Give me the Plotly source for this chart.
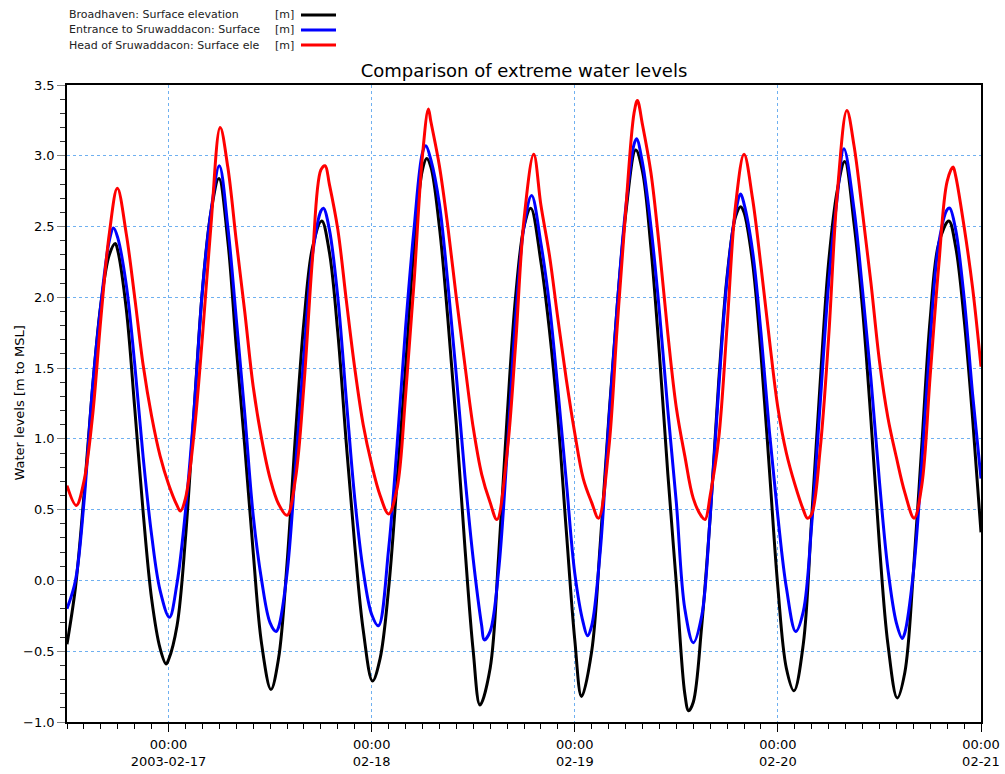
import pandas as pd
import plotly.graph_objects as go

# Water levels [m to MSL]: hourly readings from 2003-02-16 12:00,
# plus the times (hours after start) and levels of each high and low water.
start_time = "2003-02-16 12:00"

broadhaven = [
    -0.45, -0.05, 0.60, 1.35, 1.95, 2.30, 2.33, 1.92, 1.22, 0.48,
    -0.13, -0.48, -0.56, -0.32, 0.30, 1.19, 2.05, 2.60, 2.83, 2.40,
    1.65, 0.95, 0.20, -0.45, -0.76, -0.55, 0.12, 1.03, 1.83, 2.35,
    2.54, 2.32, 1.75, 0.97, 0.25, -0.35, -0.70, -0.55, -0.06, 0.70,
    1.50, 2.35, 2.90, 2.92, 2.50, 1.85, 1.10, 0.25, -0.50, -0.86,
    -0.62, 0.17, 1.15, 2.00, 2.50, 2.57, 2.25, 1.77, 1.15, 0.35,
    -0.42, -0.82, -0.50, 0.25, 1.13, 1.93, 2.58, 3.02, 2.89, 2.35,
    1.60, 0.75, -0.02, -0.80, -0.86, -0.32, 0.45, 1.40, 2.15, 2.57,
    2.60, 2.25, 1.60, 0.78, -0.05, -0.62, -0.76, -0.45, 0.45, 1.40,
    2.25, 2.75, 2.92, 2.52, 1.92, 1.13, 0.25, -0.45, -0.82, -0.65,
    0.05, 0.95, 1.85, 2.38, 2.53, 2.36, 1.85, 1.15, 0.34,
]
broadhaven_turn_hours = [5.7, 11.7, 17.95, 24.1, 30.1, 36.1, 42.5, 48.8, 54.8,
                         60.8, 67.2, 73.45, 79.6, 85.9, 91.9, 98.1, 104.2]
broadhaven_turn_levels = [2.38, -0.59, 2.84, -0.77, 2.54, -0.71, 2.98, -0.88, 2.63,
                          -0.82, 3.04, -0.92, 2.64, -0.78, 2.96, -0.83, 2.54]

entrance = [
    -0.20, 0.00, 0.55, 1.35, 1.95, 2.40, 2.42, 2.09, 1.53, 0.87,
    0.32, -0.07, -0.25, -0.02, 0.49, 1.19, 2.05, 2.60, 2.93, 2.50,
    1.85, 1.18, 0.46, 0.00, -0.30, -0.33, 0.05, 0.80, 1.60, 2.30,
    2.61, 2.48, 2.00, 1.28, 0.58, 0.07, -0.24, -0.31, 0.22, 0.95,
    1.78, 2.48, 3.02, 2.97, 2.66, 2.10, 1.45, 0.75, 0.15, -0.32,
    -0.36, 0.07, 0.90, 1.85, 2.50, 2.70, 2.38, 1.95, 1.35, 0.70,
    0.05, -0.30, -0.32, 0.20, 1.10, 1.93, 2.62, 3.08, 2.95, 2.50,
    1.90, 1.20, 0.55, -0.20, -0.42, -0.25, 0.45, 1.35, 2.13, 2.60,
    2.66, 2.33, 1.75, 1.05, 0.45, -0.05, -0.35, -0.22, 0.40, 1.25,
    2.10, 2.70, 3.02, 2.62, 2.05, 1.42, 0.70, 0.08, -0.30, -0.37,
    0.05, 0.82, 1.70, 2.38, 2.62, 2.48, 2.00, 1.32, 0.72,
]
entrance_turn_hours = [5.5, 12.1, 18.0, 24.7, 30.3, 36.8, 42.4, 49.3, 54.9,
                       61.5, 67.3, 74.0, 79.6, 86.1, 91.8, 98.7, 104.3]
entrance_turn_levels = [2.49, -0.26, 2.93, -0.36, 2.63, -0.32, 3.07, -0.42, 2.72,
                        -0.39, 3.12, -0.44, 2.73, -0.36, 3.05, -0.41, 2.63]

head = [
    0.67, 0.53, 0.70, 1.15, 1.85, 2.45, 2.76, 2.45, 2.00, 1.52,
    1.16, 0.88, 0.68, 0.53, 0.58, 1.03, 1.72, 2.50, 3.17, 2.92,
    2.40, 1.90, 1.37, 1.00, 0.72, 0.54, 0.46, 0.72, 1.38, 2.27,
    2.90, 2.80, 2.48, 1.98, 1.50, 1.10, 0.82, 0.60, 0.47, 0.65,
    1.30, 2.10, 3.00, 3.24, 2.93, 2.50, 2.00, 1.53, 1.08, 0.75,
    0.55, 0.46, 0.90, 1.66, 2.55, 3.00, 2.65, 2.30, 1.85, 1.42,
    1.04, 0.72, 0.55, 0.46, 0.92, 1.78, 2.60, 3.30, 3.22, 2.88,
    2.35, 1.74, 1.22, 0.88, 0.58, 0.45, 0.60, 1.00, 1.80, 2.65,
    3.00, 2.70, 2.22, 1.70, 1.22, 0.90, 0.68, 0.50, 0.47, 0.93,
    1.72, 2.72, 3.32, 3.07, 2.60, 2.10, 1.55, 1.15, 0.87, 0.62,
    0.45, 0.67, 1.45, 2.22, 2.82, 2.86, 2.50, 2.07, 1.51,
]
head_turn_hours = [1.1, 5.95, 13.4, 18.1, 26.0, 30.5, 38.0, 42.7, 50.8,
                   55.15, 62.8, 67.4, 75.4, 80.0, 87.5, 92.15, 100.1, 104.7]
head_turn_levels = [0.53, 2.77, 0.49, 3.20, 0.46, 2.93, 0.47, 3.33, 0.43,
                    3.01, 0.44, 3.39, 0.43, 3.01, 0.44, 3.32, 0.44, 2.92]

series_names = [
    "Broadhaven: Surface elevation",
    "Entrance to Sruwaddacon: Surface",
    "Head of Sruwaddacon: Surface ele",
]
series_units = ["[m]", "[m]", "[m]"]
series_colors = ["#000000", "#0000ff", "#ff0000"]

x_tick_dates = ["2003-02-17", "2003-02-18", "2003-02-19", "2003-02-20", "2003-02-21"]
x_tick_text = ["00:00<br>2003-02-17", "00:00<br>02-18", "00:00<br>02-19",
               "00:00<br>02-20", "00:00<br>02-21"]
y_tick_vals = [-1.0, -0.5, 0.0, 0.5, 1.0, 1.5, 2.0, 2.5, 3.0, 3.5]
y_title = "Water levels [m to MSL]"


def combine(hourly, turn_hours, turn_levels):
    """Merge the hourly readings with the high/low water readings, in time order.
    An hourly reading lying within a quarter hour of a turning point is left out."""
    pts = [(float(h), v) for h, v in zip(turn_hours, turn_levels)]
    for h, v in enumerate(hourly):
        if all(abs(h - th) >= 0.25 for th in turn_hours):
            pts.append((float(h), v))
    pts.sort()
    t0 = pd.Timestamp(start_time)
    xs = [t0 + pd.Timedelta(hours=h) for h, _ in pts]
    ys = [v for _, v in pts]
    return xs, ys


FONT = "DejaVu Sans, Verdana, sans-serif"
GRID = "#6fb0f0"

fig = go.Figure()
for name, color, (hourly, th, tl) in zip(
        series_names, series_colors,
        [(broadhaven, broadhaven_turn_hours, broadhaven_turn_levels),
         (entrance, entrance_turn_hours, entrance_turn_levels),
         (head, head_turn_hours, head_turn_levels)]):
    xs, ys = combine(hourly, th, tl)
    fig.add_trace(go.Scatter(
        x=xs, y=ys, name=name, mode="lines",
        line=dict(color=color, width=3, shape="spline", smoothing=1.0),
    ))

fig.update_layout(
    width=1005, height=774,
    margin=dict(l=67, r=24, t=85, b=52),
    plot_bgcolor="white", paper_bgcolor="white",
    showlegend=False,
    font=dict(family=FONT, size=13, color="#000000"),
    title=dict(text="Comparison of extreme water levels", x=0.5, xref="paper",
               y=1 - 71 / 774, yref="container", yanchor="middle", xanchor="center",
               font=dict(size=18, family=FONT, color="#000000")),
)

fig.update_xaxes(
    type="date", automargin=False,
    range=[start_time, "2003-02-21 00:00"],
    tickvals=x_tick_dates, ticktext=x_tick_text,
    ticks="outside", ticklen=8, tickcolor="#000000", tickwidth=1,
    ticklabelstandoff=2,
    showgrid=True, gridcolor=GRID, griddash="dot", gridwidth=1,
    minor=dict(dtick=2 * 3600 * 1000, tick0="2003-02-16 00:00", ticks="outside",
               ticklen=5, tickcolor="#000000", showgrid=False),
    showline=True, linecolor="#000000", linewidth=1.5, mirror=True,
    zeroline=False, tickfont=dict(size=13, family=FONT),
)

fig.update_yaxes(
    automargin=False,
    range=[-1.0, 3.5],
    tickvals=y_tick_vals, tickformat=".1f",
    ticks="outside", ticklen=8, tickcolor="#808080", tickwidth=1,
    showgrid=True, gridcolor=GRID, griddash="dot", gridwidth=1,
    minor=dict(dtick=0.1, tick0=0, ticks="outside", ticklen=5,
               tickcolor="#333333", showgrid=False),
    showline=True, linecolor="#000000", linewidth=1.5, mirror=True,
    zeroline=False, tickfont=dict(size=13, family=FONT),
)

plot_w, plot_h = 914.0, 637.0

# Vertical axis title, placed just left of the tick labels
fig.add_annotation(x=(19 - 67) / plot_w, y=0.5, xref="paper", yref="paper",
                   text=y_title, textangle=-90, showarrow=False,
                   xanchor="center", yanchor="middle",
                   font=dict(size=13, family=FONT, color="#000000"))

# Legend block above the plot: label, unit column, line sample on the right
row_px = [15, 30, 45]
for i, (name, unit, color) in enumerate(zip(series_names, series_units, series_colors)):
    yp = (722 - row_px[i]) / plot_h
    fig.add_annotation(x=0, y=yp, xref="paper", yref="paper", text=name,
                       showarrow=False, xanchor="left", yanchor="middle",
                       font=dict(size=11, family=FONT, color="#222222"))
    fig.add_annotation(x=(273 - 67) / plot_w, y=yp, xref="paper", yref="paper", text=unit,
                       showarrow=False, xanchor="left", yanchor="middle",
                       font=dict(size=11, family=FONT, color="#222222"))
    fig.add_shape(type="line", xref="paper", yref="paper",
                  x0=(301 - 67) / plot_w, x1=(336 - 67) / plot_w, y0=yp, y1=yp,
                  line=dict(color=color, width=3))

fig.write_html("out.html")
